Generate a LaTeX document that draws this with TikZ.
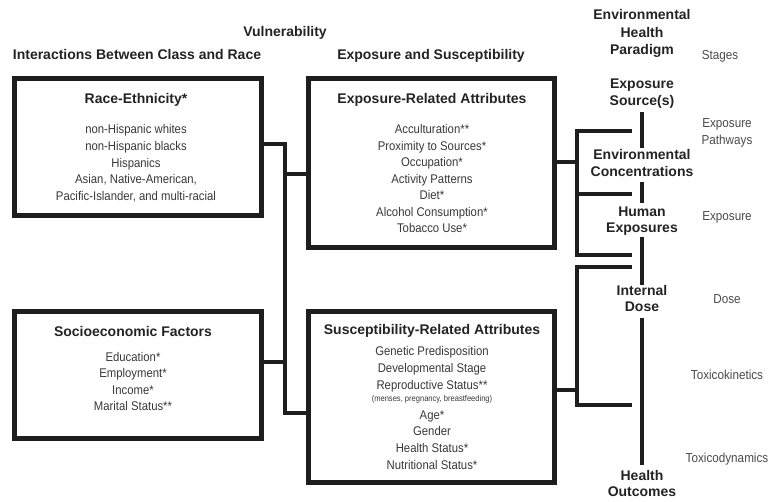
\documentclass[tikz,border=0pt]{standalone}
\usepackage{fontspec}
\setmainfont{Liberation Sans}
\newfontfamily\bodyfont[FakeStretch=0.9]{Liberation Sans}
\definecolor{linec}{HTML}{1E1E1E}
\definecolor{titlec}{HTML}{232323}
\definecolor{bodyc}{HTML}{383838}
\definecolor{grayc}{HTML}{4A4A4A}
\begin{document}
\begin{tikzpicture}[x=1pt,y=-1pt,
  boxst/.style={draw=linec, line width=5pt, inner sep=0pt, rectangle},
  conn/.style={draw=linec, line width=4pt, line join=miter},
  ttl/.style={font=\fontsize{14}{17}\selectfont\bfseries, text=titlec, anchor=base, inner sep=0pt, align=center},
  bod/.style={font=\bodyfont\fontsize{12.6}{16.6}\selectfont, text=bodyc, anchor=base, inner sep=0pt, align=center},
  small/.style={font=\bodyfont\fontsize{8.4}{9}\selectfont, text=bodyc, anchor=base, inner sep=0pt},
  stage/.style={font=\bodyfont\fontsize{13}{17}\selectfont, text=grayc, anchor=base, inner sep=0pt, align=center}]
\useasboundingbox (0,0) rectangle (771,502);

% headers
\node[ttl] (vuln) at (285,37) {Vulnerability};
\node[ttl] (inter) at (137,60) {Interactions Between Class and Race};
\node[ttl] (expsus) at (431,60) {Exposure and Susceptibility};

% boxes
\node[boxst, minimum width=247pt, minimum height=137pt] (race) at (138,147) {};
\node[boxst, minimum width=246pt, minimum height=169pt] (expo) at (431.5,163) {};
\node[boxst, minimum width=247pt, minimum height=127pt] (socio) at (138,375) {};
\node[boxst, minimum width=246pt, minimum height=171pt] (sus) at (431.5,397) {};

% box texts (multi-line nodes: base = last line)
\node[ttl] (raceT) at (136,104) {Race-Ethnicity*};
\node[bod] (raceL) at (136,200.4) {non-Hispanic whites\\non-Hispanic blacks\\Hispanics\\Asian, Native-American,\\Pacific-Islander, and multi-racial};

\node[ttl] (expoT) at (432,104) {Exposure-Related Attributes};
\node[bod, font=\bodyfont\fontsize{12.6}{16.5}\selectfont] (expoL) at (432,233) {Acculturation**\\Proximity to Sources*\\Occupation*\\Activity Patterns\\Diet*\\Alcohol Consumption*\\Tobacco Use*};

\node[ttl] (socioT) at (133,337) {Socioeconomic Factors};
\node[bod] (socioL) at (133,410.8) {Education*\\Employment*\\Income*\\Marital Status**};

\node[ttl] (susT) at (432,335) {Susceptibility-Related Attributes};
\node[bod, font=\bodyfont\fontsize{12.6}{17}\selectfont] (susL1) at (432,390) {Genetic Predisposition\\Developmental Stage\\Reproductive Status**};
\node[small] (susS) at (432,402) {(menses, pregnancy, breastfeeding)};
\node[bod, font=\bodyfont\fontsize{12.6}{16.7}\selectfont] (susL2) at (432,469.1) {Age*\\Gender\\Health Status*\\Nutritional Status*};

% left connectors
\coordinate (sp1) at (285,144);
\coordinate (sp2) at (285,174);
\coordinate (sp3) at (285,362);
\coordinate (sp4) at (285,413);
\draw[conn] (race.east |- sp1) -- (sp1) -- (sp4) -- (sus.west |- sp4);
\draw[conn] (sp2) -- (expo.west |- sp2);
\draw[conn] (socio.east |- sp3) -- (sp3);

% right column labels
\node[ttl, font=\fontsize{14}{17.5}\selectfont\bfseries] (para) at (642,55) {Environmental\\Health\\Paradigm};
\node[ttl] (source) at (642,106) {Exposure\\Source(s)};
\node[ttl] (envc) at (642,177) {Environmental\\Concentrations};
\node[ttl, font=\fontsize{14}{16}\selectfont\bfseries] (human) at (642,233) {Human\\Exposures};
\node[ttl, font=\fontsize{14}{16}\selectfont\bfseries] (internal) at (642,312) {Internal\\Dose};
\node[ttl, font=\fontsize{14}{16}\selectfont\bfseries] (health) at (642,496) {Health\\Outcomes};

\node[stage] (stages) at (720,59.5) {Stages};
\node[stage] (pathw) at (727,144.5) {Exposure\\Pathways};
\node[stage] (expl) at (727,220.5) {Exposure};
\node[stage] (dose) at (727,303.5) {Dose};
\node[stage] (tk) at (727,379.5) {Toxicokinetics};
\node[stage] (td) at (727,462.5) {Toxicodynamics};

% right brackets
\coordinate (ra) at (577,162);
\coordinate (b1t) at (577,131);
\coordinate (b1m) at (577,194);
\coordinate (b1b) at (577,255);
\coordinate (e1t) at (632,131);
\coordinate (e1m) at (632,194);
\coordinate (e1b) at (632,255);
\draw[conn] (expo.east |- ra) -- (ra);
\draw[conn] (e1t) -- (b1t) -- (b1b) -- (e1b);
\draw[conn] (b1m) -- (e1m);

\coordinate (rb) at (577,390);
\coordinate (b2t) at (577,267);
\coordinate (b2b) at (577,405);
\coordinate (e2t) at (632,267);
\coordinate (e2b) at (632,405);
\draw[conn] (sus.east |- rb) -- (rb);
\draw[conn] (e2t) -- (b2t) -- (b2b) -- (e2b);

% main axis
\coordinate (a1) at (642,112); \coordinate (a2) at (642,148);
\coordinate (a3) at (642,182); \coordinate (a4) at (642,203);
\coordinate (a5) at (642,237); \coordinate (a6) at (642,285);
\coordinate (a7) at (642,318); \coordinate (a8) at (642,465);
\draw[conn] (a1) -- (a2);
\draw[conn] (a3) -- (a4);
\draw[conn] (a5) -- (a6);
\draw[conn] (a7) -- (a8);
\end{tikzpicture}
\end{document}
